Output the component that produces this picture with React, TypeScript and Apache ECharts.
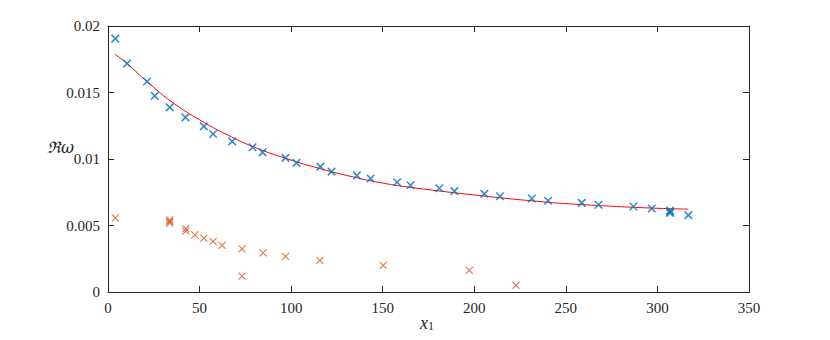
import React, { useEffect, useRef } from "react";
import * as echarts from "echarts";

const blueX = [4.0, 10.4, 21.3, 25.5, 33.7, 42.3, 52.3, 57.4, 67.8, 78.9, 84.4, 96.9, 102.9, 116.0, 122.1, 135.9, 143.4, 157.9, 165.2, 180.9, 189.1, 205.5, 214.0, 231.4, 240.3, 258.7, 267.8, 286.9, 296.9, 306.9, 306.9, 306.9, 316.9];
const blueY = [0.01905, 0.01718, 0.01583, 0.01475, 0.01388, 0.01313, 0.01245, 0.01188, 0.01133, 0.01088, 0.0105, 0.01008, 0.00971, 0.00943, 0.00905, 0.00877, 0.00853, 0.00825, 0.00803, 0.0078, 0.00758, 0.00738, 0.0072, 0.00703, 0.00686, 0.0067, 0.00656, 0.00643, 0.00628, 0.00613, 0.00603, 0.00594, 0.00578];

const orangeX = [4.0, 33.7, 33.7, 33.7, 42.5, 42.5, 47.4, 52.3, 57.4, 62.3, 73.2, 73.2, 84.7, 96.9, 115.7, 150.3, 197.3, 222.8];
const orangeY = [0.00558, 0.00543, 0.0053, 0.00518, 0.00476, 0.00458, 0.0043, 0.00405, 0.0038, 0.0035, 0.00325, 0.0012, 0.00295, 0.00268, 0.00238, 0.002, 0.00163, 0.0005];

const fitX = [3.8, 10.8, 21.7, 36.3, 52.7, 65.0, 79.2, 97.5, 115.7, 133.9, 148.5, 161.2, 179.5, 197.7, 215.8, 235.9, 248.6, 266.9, 285.1, 303.3, 316.9];
const fitY = [0.01788, 0.01713, 0.01577, 0.01415, 0.01273, 0.01183, 0.01093, 0.01003, 0.00928, 0.00865, 0.00823, 0.00794, 0.00762, 0.00733, 0.00706, 0.0068, 0.00666, 0.00651, 0.00638, 0.00628, 0.00623];

const xTicks = [0, 50, 100, 150, 200, 250, 300, 350];
const yTicks = ["0", "0.005", "0.01", "0.015", "0.02"];

const zip = (xs: number[], ys: number[]) => xs.map((x, i) => [x, ys[i]]);

const CROSS = "path://M0,0L10,10M10,0L0,10";
const AX = "#262626";
const FONT = "'Liberation Serif', 'DejaVu Serif', serif";

export default function App() {
  const ref = useRef<HTMLDivElement>(null);
  useEffect(() => {
    const chart = echarts.init(ref.current!, null, { renderer: "svg" });
    const axisCommon = {
      axisLine: { show: true, onZero: false, lineStyle: { color: AX, width: 1 } },
      axisTick: { show: true, inside: true, length: 6, lineStyle: { color: AX } },
      splitLine: { show: false },
    };
    chart.setOption({
      animation: false,
      backgroundColor: "#ffffff",
      grid: { left: 100, right: 73, top: 18, bottom: 40, containLabel: false },
      xAxis: [
        {
          type: "value",
          min: 0,
          max: 350,
          interval: 50,
          position: "bottom",
          ...axisCommon,
          axisLabel: {
            color: AX,
            fontFamily: FONT,
            fontSize: 15,
            margin: 8,
            formatter: (v: number) => (xTicks.includes(v) ? String(v) : ""),
          },
        },
        {
          type: "value",
          min: 0,
          max: 350,
          interval: 50,
          position: "top",
          ...axisCommon,
          axisLabel: { show: false },
        },
      ],
      yAxis: [
        {
          type: "value",
          min: 0,
          max: 0.02,
          interval: 0.005,
          position: "left",
          ...axisCommon,
          axisLabel: {
            color: AX,
            fontFamily: FONT,
            fontSize: 15,
            margin: 8,
            formatter: (v: number) => yTicks[Math.round(v / 0.005)] ?? "",
          },
        },
        {
          type: "value",
          min: 0,
          max: 0.02,
          interval: 0.005,
          position: "right",
          ...axisCommon,
          axisLabel: { show: false },
        },
      ],
      graphic: [
        {
          type: "text",
          left: 39,
          top: 131,
          style: {
            text: "ℜω",
            font: "italic 16px 'DejaVu Serif', serif",
            fill: AX,
          },
        },
        {
          type: "text",
          left: 412,
          top: 306,
          style: {
            text: "{i|x}{s|1}",
            rich: {
              i: { font: "italic 18px 'Liberation Serif', serif", fill: AX },
              s: { font: "12px 'Liberation Serif', serif", fill: AX, padding: [6, 0, 0, 0] },
            },
          },
        },
      ],
      series: [
        {
          type: "line",
          data: zip(fitX, fitY),
          smooth: 0.5,
          showSymbol: false,
          symbol: "none",
          lineStyle: { color: "#ff0000", width: 1 },
          z: 1,
        },
        {
          type: "scatter",
          data: zip(blueX, blueY),
          symbol: CROSS,
          symbolSize: 7.5,
          itemStyle: { color: "rgba(0,0,0,0)", borderColor: "#0072BD", borderWidth: 1.6 },
          z: 3,
        },
        {
          type: "scatter",
          data: zip(orangeX, orangeY),
          symbol: CROSS,
          symbolSize: 7,
          itemStyle: { color: "rgba(0,0,0,0)", borderColor: "#D95319", borderWidth: 1.1 },
          z: 3,
        },
      ],
    });
    return () => chart.dispose();
  }, []);
  return <div ref={ref} style={{ width: 814, height: 324 }} />;
}
